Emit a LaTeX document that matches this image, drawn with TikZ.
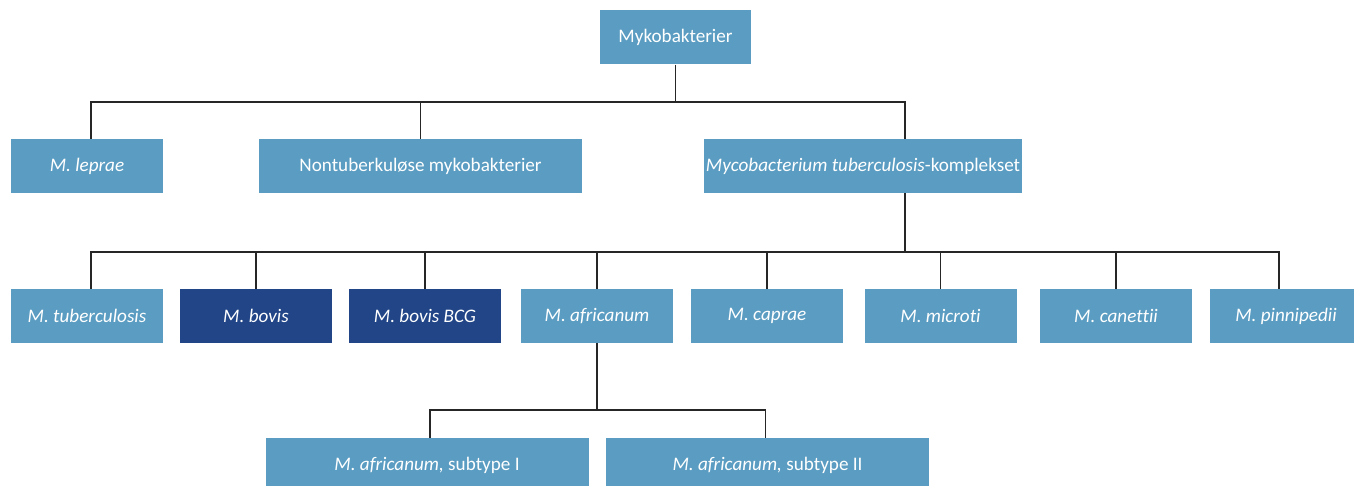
\documentclass[tikz,border=0pt]{standalone}
\usepackage{fontspec}
\setmainfont{Carlito}[Ligatures=NoCommon]
\usepackage{xcolor}
\usetikzlibrary{positioning}

\definecolor{lysblaa}{HTML}{5B9DC2}
\definecolor{moerkblaa}{HTML}{214587}

\tikzset{
  boks/.style={fill=lysblaa, text=white, inner sep=0pt, minimum height=54*0.02cm,
    font=\fontsize{10.9}{13}\selectfont},
  smal/.style={boks, minimum width=152*0.02cm},
  bred/.style={boks, minimum width=323*0.02cm},
  moerk/.style={fill=moerkblaa},
  linje/.style={line width=0.6pt, black!85}
}

\begin{document}
\begin{tikzpicture}[x=0.02cm, y=-0.02cm]
\useasboundingbox (0,0) rectangle (1354,486);

\node[boks, minimum width=151*0.02cm] (myko) at (675.5,37.5) {Mykobakterier};

\node[smal] (leprae) at (87,166) {\textit{M. leprae}};
\node[bred] (ntm) at (420.5,166) {Nontuberkuløse mykobakterier};
\node[boks, minimum width=318*0.02cm] (mtbk) at (863,166) {\textit{Mycobacterium tuberculosis}-komplekset};

\node[smal] (tb) at (87,316) {\textit{M. tuberculosis}};
\node[smal, moerk] (bovis) at (256,316) {\textit{M. bovis}};
\node[smal, moerk] (bcg) at (425,316) {\textit{M. bovis BCG}};
\node[smal] (afri) at (597,316) {\textit{M. africanum}};
\node[smal] (caprae) at (767,316) {\textit{M. caprae}};
\node[smal] (microti) at (940.5,316) {\textit{M. microti}};
\node[smal] (canettii) at (1116,316) {\textit{M. canettii}};
\node[smal] (pinni) at (1286,316) {\textit{M. pinnipedii}};

%subtyper
\node[bred] (sub1) at (427,465) {\textit{M. africanum,} subtype I};
\node[bred] (sub2) at (767.5,465) {\textit{M. africanum,} subtype II};

\coordinate (bus1) at (0,102);
\coordinate (bus2) at (0,252);
\coordinate (bus3) at (0,410);

\foreach \barn/\dx in {leprae/4, ntm/0, mtbk/42}
  \draw[linje] (myko.south) -- (myko.south |- bus1) -| ([xshift=\dx*0.02cm]\barn.north);
\foreach \barn/\dx in {tb/4, bovis/0, bcg/0, afri/0, caprae/0, microti/0, canettii/0, pinni/-7}
  \draw[linje] ([xshift=42*0.02cm]mtbk.south) -- ([xshift=42*0.02cm]mtbk.south |- bus2) -| ([xshift=\dx*0.02cm]\barn.north);
\foreach \barn/\dx in {sub1/3, sub2/-2}
  \draw[linje] (afri.south) -- (afri.south |- bus3) -| ([xshift=\dx*0.02cm]\barn.north);
\end{tikzpicture}
\end{document}
